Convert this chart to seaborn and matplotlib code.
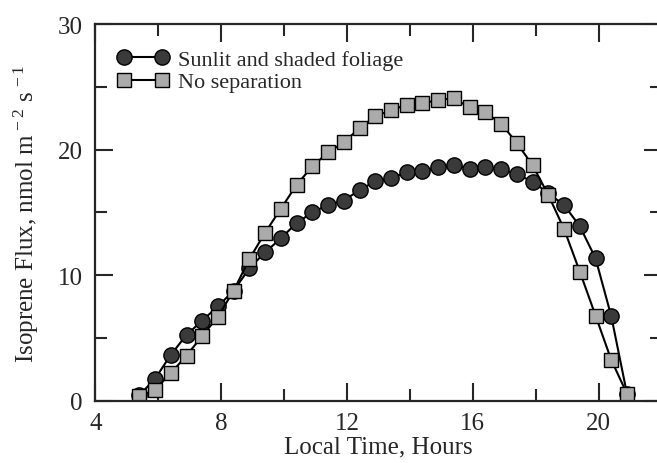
import numpy as np
import pandas as pd
import matplotlib
matplotlib.use("Agg")
import matplotlib.pyplot as plt
import seaborn as sns
from matplotlib.ticker import MultipleLocator

# -------------------------------
# Data
# -------------------------------
hours = [5.4, 5.9, 6.4, 6.9, 7.4, 7.9, 8.4, 8.9, 9.4, 9.9, 10.4, 10.9,
         11.4, 11.9, 12.4, 12.9, 13.4, 13.9, 14.4, 14.9, 15.4, 15.9, 16.4, 16.9,
         17.4, 17.9, 18.4, 18.9, 19.4, 19.9, 20.4, 20.9]

sunlit_shaded = [0.45, 1.75, 3.66, 5.25, 6.39, 7.53, 8.78, 10.56, 11.83, 12.94, 14.16, 15.0,
                 15.6, 15.94, 16.79, 17.48, 17.74, 18.19, 18.27, 18.59, 18.77, 18.46, 18.59, 18.45,
                 18.03, 17.46, 16.52, 15.59, 13.9, 11.35, 6.74, 0.56]

no_separation = [0.35, 0.9, 2.2, 3.6, 5.17, 6.7, 8.78, 11.3, 13.4, 15.3, 17.2, 18.67,
                 19.78, 20.58, 21.72, 22.65, 23.15, 23.57, 23.68, 23.97, 24.08, 23.36, 22.97, 22.07,
                 20.53, 18.75, 16.39, 13.68, 10.29, 6.79, 3.26, 0.56]

labels = ["Sunlit and shaded foliage", "No separation"]

df = pd.DataFrame({"Hour": hours, "Sunlit": sunlit_shaded, "NoSep": no_separation})

# -------------------------------
# Style
# -------------------------------
sns.set_style("ticks")
plt.rcParams["font.family"] = ["Liberation Serif", "DejaVu Serif"]
plt.rcParams["mathtext.fontset"] = "custom"
plt.rcParams["mathtext.rm"] = "Liberation Serif"
plt.rcParams["mathtext.it"] = "Liberation Serif"

fig = plt.figure(figsize=(6.57, 4.64), dpi=100)
# axes runs a little past the right edge, like the scanned original
ax = fig.add_axes([0.145, 0.134, 0.862, 0.812])

sns.lineplot(data=df, x="Hour", y="Sunlit", ax=ax, color="black", linewidth=1.5,
             marker="o", markersize=11, markerfacecolor="#3a3a3a",
             markeredgecolor="black", markeredgewidth=1.0, label=labels[0])
sns.lineplot(data=df, x="Hour", y="NoSep", ax=ax, color="black", linewidth=1.5,
             marker="s", markersize=9.5, markerfacecolor="#ababab",
             markeredgecolor="black", markeredgewidth=1.0, label=labels[1])

ax.set_xlim(4, 22)
ax.set_ylim(0, 30)
ax.xaxis.set_major_locator(MultipleLocator(4))
ax.xaxis.set_minor_locator(MultipleLocator(2))
ax.yaxis.set_major_locator(MultipleLocator(10))
ax.yaxis.set_minor_locator(MultipleLocator(5))
ax.tick_params(which="both", direction="in", top=True, right=True, width=1.5,
               labelsize=18)
ax.tick_params(axis="x", pad=8)
ax.tick_params(axis="y", pad=9)
ax.tick_params(which="major", length=13)
ax.tick_params(which="minor", length=8.5)
for s in ax.spines.values():
    s.set_linewidth(1.6)
    s.set_visible(True)

ax.set_xlabel("Local Time, Hours", fontsize=18, labelpad=1)
ax.set_ylabel(r"Isoprene Flux, nmol m$^{\,-2}$ s$^{\,-1}$", fontsize=18, labelpad=12)

# two markers per legend entry, joined by a line
leg = ax.legend(loc="upper left", frameon=False, fontsize=16, handlelength=2.3,
                numpoints=2, handletextpad=0.4, labelspacing=0.1, borderaxespad=0.3,
                bbox_to_anchor=(0.012, 0.975))

fig.savefig("out.png", dpi=100)
